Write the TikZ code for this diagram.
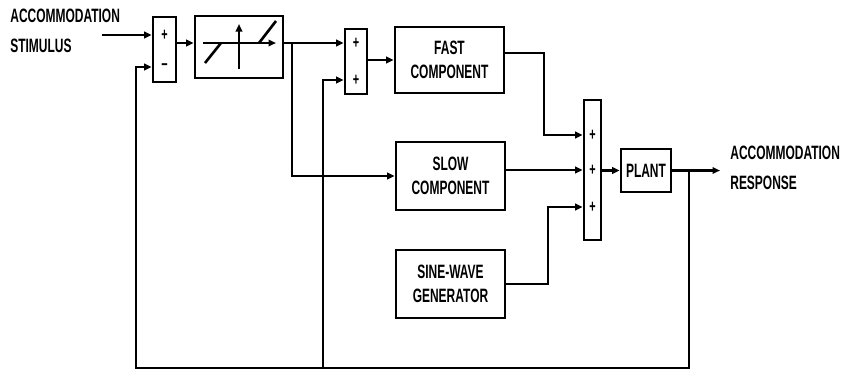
\documentclass[tikz,border=0pt]{standalone}
\usepackage{fontspec}
\setmainfont[FakeStretch=0.62]{Liberation Sans}
\usepackage{tikz}
\usetikzlibrary{arrows.meta}

\begin{document}
\begin{tikzpicture}[x=0.02cm, y=-0.02cm,
  font=\bfseries\fontsize{11}{14}\selectfont,
  blk/.style={draw, line width=1.5pt, inner sep=0pt, align=center},
  sumb/.style={draw, line width=1.5pt, inner sep=0pt},
  sgn/.style={inner sep=0pt, font=\bfseries\fontsize{10}{10}\selectfont},
  lbl/.style={align=left, inner sep=0pt, anchor=north west, font=\bfseries\fontsize{11}{17}\selectfont},
  arr/.style={line width=1.2pt, -{Triangle[length=1.5mm,width=1.3mm]}},
  wire/.style={line width=1.2pt}
]
  \useasboundingbox (0,0) rectangle (843,373);

  % summing junctions
  \node[sumb, minimum width=0.46cm, minimum height=1.3cm] (sum1) at (164.5,49.5) {};
  \node[sumb, minimum width=0.44cm, minimum height=1.3cm] (sum2) at (356,61.5) {};
  \node[sumb, minimum width=0.34cm, minimum height=2.8cm] (sum3) at (592.5,170) {};
  \node[sgn] (p1) at (164.5,35) {+};
  \node[sgn] (m1) at (164.5,67) {−};
  \node[sgn] (pa) at (356,43) {+};
  \node[sgn] (pb) at (356,80) {+};
  \node[sgn] (s3a) at (592.5,135) {+};
  \node[sgn] (s3b) at (592.5,170) {+};
  \node[sgn] (s3c) at (592.5,207) {+};

  % blocks
  \node[blk, minimum width=1.76cm, minimum height=1.24cm] (sat) at (239,47) {};
  \node[blk, minimum width=2.18cm, minimum height=1.32cm] (fast) at (449.5,60) {FAST\\COMPONENT};
  \node[blk, minimum width=2.18cm, minimum height=1.36cm] (slow) at (450.5,176) {SLOW\\COMPONENT};
  \node[blk, minimum width=2.18cm, minimum height=1.36cm] (sine) at (450.5,284) {SINE-WAVE\\GENERATOR};
  \node[blk, minimum width=1.0cm, minimum height=0.86cm] (plant) at (646,170.5) {PLANT};

  \node[lbl] (stim) at (10,9) {ACCOMMODATION\\STIMULUS};
  \node[lbl] (resp) at (730,146) {ACCOMMODATION\\RESPONSE};

  % saturation symbol
  \draw[arr] (203,43) -- (276,43);
  \draw[arr] (239,69) -- (239,24);
  \draw[line width=1.5pt] (205,63) -- (221,43);
  \draw[line width=1.5pt] (259,43) -- (276,21);

  \coordinate (in) at (102,35);
  \coordinate (br) at (292,43);
  \coordinate (k1) at (544,0);
  \coordinate (k2) at (548,0);
  \coordinate (out) at (720,170.5);
  \coordinate (c1) at (689,368);
  \coordinate (c2) at (136,368);
  \coordinate (c3) at (323,368);

  \draw[arr] (in) -- (p1 -| sum1.west);
  \draw[arr] (sum1.east |- pa) -- (sat.west |- pa);
  \draw[arr] (sat.east |- pa) -- (pa -| sum2.west);
  \draw[arr] (br) |- (slow.west);
  \draw[arr] (sum2.east |- fast) -- (fast.west);
  \draw[arr] ([yshift=1.4mm]fast.east) -| (k1 |- s3a) -- (s3a -| sum3.west);
  \draw[arr] (slow.east |- s3b) -- (s3b -| sum3.west);
  \draw[arr] (sine.east) -| (k2 |- s3c) -- (s3c -| sum3.west);
  \draw[arr] (sum3.east |- plant) -- (plant.west);
  \draw[arr] (plant.east) -- (out);

  % feedback
  \draw[arr] (plant.east -| c1) -- (c1) -- (c2) |- (m1 -| sum1.west);
  \draw[arr] (c3) |- (pb -| sum2.west);
\end{tikzpicture}
\end{document}
